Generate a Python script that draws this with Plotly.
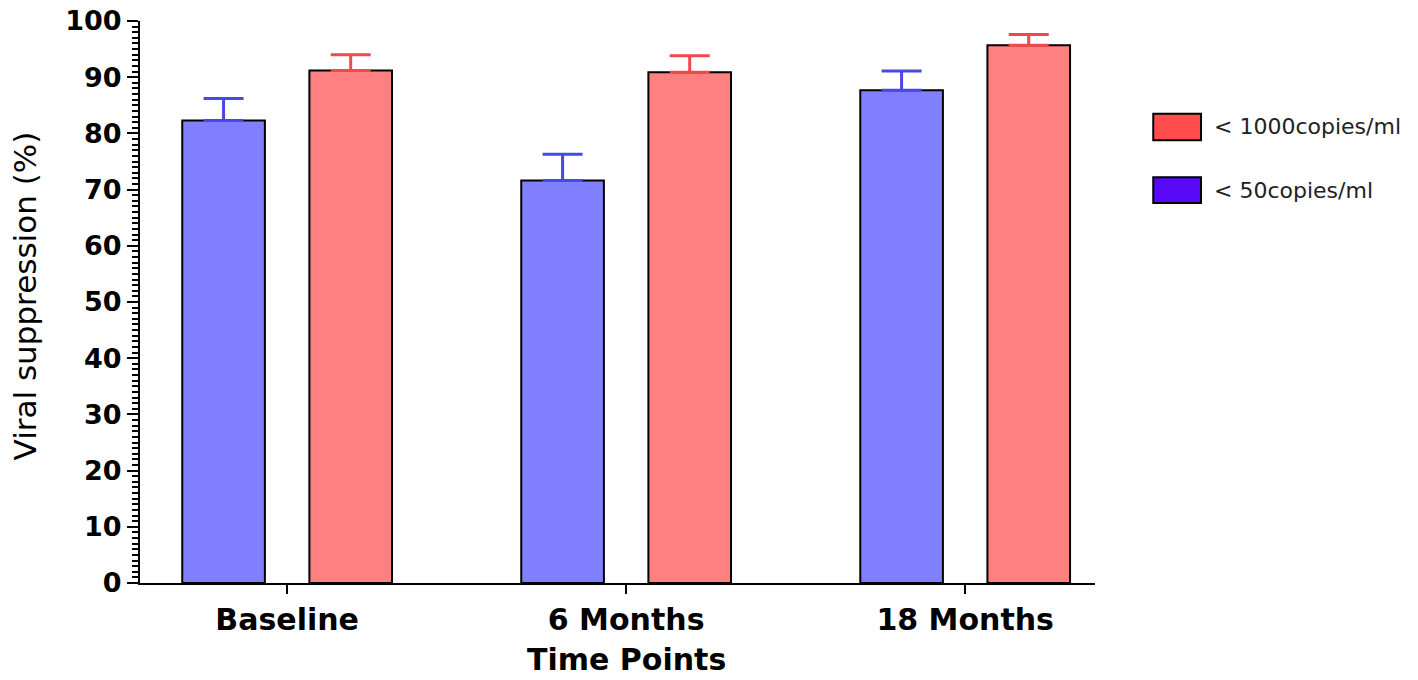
import plotly.graph_objects as go

# ── Data ───────────────────────────────────────────────────────────────────────
TIME_POINTS = ["Baseline", "6 Months", "18 Months"]
LT50_PCT = [82.3, 71.6, 87.7]        # < 50 copies/ml
LT50_ERR = [3.9, 4.7, 3.4]
LT1000_PCT = [91.2, 90.9, 95.7]      # < 1000 copies/ml
LT1000_ERR = [2.8, 2.9, 1.9]
LEGEND_LABELS = ["< 1000copies/ml", "< 50copies/ml"]

# ── Palette ────────────────────────────────────────────────────────────────────
BLUE_BAR = "#8080FF"
RED_BAR = "#FF8080"
BLUE_ERR = "#4848E6"
RED_ERR = "#EE4A4A"
BLUE_KEY = "#5A08F8"
RED_KEY = "#FF4C4C"
FONT = "DejaVu Sans"

x_idx = list(range(len(TIME_POINTS)))

fig = go.Figure()
fig.add_trace(go.Bar(
    x=x_idx, y=LT50_PCT,
    name=LEGEND_LABELS[1],
    marker=dict(color=BLUE_BAR, line=dict(color="black", width=2)),
    error_y=dict(type="data", array=LT50_ERR, arrayminus=[0] * 3, symmetric=False,
                 color=BLUE_ERR, thickness=3, width=20),
    showlegend=False,
))
fig.add_trace(go.Bar(
    x=x_idx, y=LT1000_PCT,
    name=LEGEND_LABELS[0],
    marker=dict(color=RED_BAR, line=dict(color="black", width=2)),
    error_y=dict(type="data", array=LT1000_ERR, arrayminus=[0] * 3, symmetric=False,
                 color=RED_ERR, thickness=3, width=20),
    showlegend=False,
))

# ── Hand-drawn legend (big boxes like the original) ────────────────────────────
for (y0, y1), clr, label in [((0.788, 0.835), RED_KEY, LEGEND_LABELS[0]),
                             ((0.676, 0.722), BLUE_KEY, LEGEND_LABELS[1])]:
    fig.add_shape(type="rect", xref="paper", yref="paper",
                  x0=1.061, x1=1.111, y0=y0, y1=y1,
                  fillcolor=clr, line=dict(color="black", width=2))
    fig.add_annotation(xref="paper", yref="paper", x=1.122, y=(y0 + y1) / 2,
                       text=label, showarrow=False, xanchor="left", yanchor="middle",
                       font=dict(family=FONT, size=22, color="#222"))

# ── Axis titles as annotations (fixed placement) ───────────────────────────────
fig.add_annotation(xref="paper", yref="paper", x=0, y=0.51, xshift=-115,
                   text="Viral suppression (%)", textangle=-90, showarrow=False,
                   xanchor="center", yanchor="middle",
                   font=dict(family=FONT, size=31, color="black"))
fig.add_annotation(xref="x", yref="paper", x=1, y=0, yshift=-76,
                   text="<b>Time Points</b>", showarrow=False,
                   xanchor="center", yanchor="middle",
                   font=dict(family=FONT, size=30, color="black"))

fig.update_layout(
    barmode="group",
    bargap=0.25,
    bargroupgap=0.35,
    width=1418, height=680,
    paper_bgcolor="white", plot_bgcolor="white",
    margin=dict(l=140, r=323, t=21, b=97),
    font=dict(family=FONT, color="black"),
)

fig.update_xaxes(
    range=[-0.434, 2.383],
    tickvals=x_idx, ticktext=TIME_POINTS,
    tickfont=dict(family=FONT, size=30, color="black", weight="bold"),
    ticks="outside", ticklen=9, tickwidth=2, tickcolor="black",
    showline=True, linecolor="black", linewidth=2,
    showgrid=False, zeroline=False, automargin=False,
)
fig.update_yaxes(
    range=[0, 100],
    tickvals=list(range(0, 101, 10)),
    tickfont=dict(family=FONT, size=27, color="black", weight="bold"),
    ticklabeloverflow="allow",
    ticks="outside", ticklen=11, tickwidth=2, tickcolor="black",
    minor=dict(dtick=1, ticks="outside", ticklen=6, tickwidth=1.5, tickcolor="black"),
    showline=True, linecolor="black", linewidth=2,
    showgrid=False, zeroline=False, automargin=False,
)

# drop the default 8px body margin so the figure fills the window exactly
fig.write_html("out.html", config={"displayModeBar": False},
               post_script="document.body.style.margin='0px';")
